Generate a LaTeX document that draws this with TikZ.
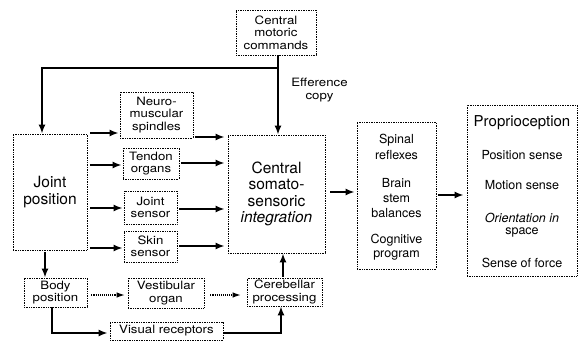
\documentclass[tikz,border=0pt]{standalone}
\usepackage{fontspec}
\setmainfont{TeX Gyre Heros}
\newfontfamily\boxfont[FakeStretch=1.15]{TeX Gyre Heros}
\usetikzlibrary{arrows.meta}
\begin{document}
\begin{tikzpicture}[x=1pt,y=-1pt,
  box/.style={draw, densely dotted, line width=0.7pt, inner sep=0pt, align=center,
    font=\boxfont\fontsize{11.5}{12.5}\selectfont},
  bigbox/.style={box, font=\rmfamily\fontsize{15.5}{16.5}\selectfont},
  tarrow/.style={line width=1.8pt, -{Latex[length=9pt,width=7pt]}},
  tline/.style={line width=1.8pt},
  farrow/.style={line width=1.1pt, densely dotted, -{Latex[length=8pt,width=5.5pt]}},
  stxt/.style={inner sep=0pt, font=\fontsize{12.5}{14}\selectfont},
  ltxt/.style={inner sep=0pt, font=\fontsize{15}{16}\selectfont}
]
\useasboundingbox (0,0) rectangle (579,345);

% boxes
\node[box, minimum width=80pt, minimum height=45pt] (cmc) at (276,32.5) {Central\\motoric\\commands};
\node[bigbox, minimum width=74pt, minimum height=116pt] (joint) at (50,192) {Joint\\position};
\node[box, minimum width=73pt, minimum height=46pt] (neuro) at (156.5,115) {Neuro-\\muscular\\spindles};
\node[box, minimum width=56pt, minimum height=31pt] (tendon) at (151,163.5) {Tendon\\organs};
\node[box, minimum width=53pt, minimum height=33pt] (jsens) at (150.5,207.5) {Joint\\sensor};
\node[box, minimum width=53pt, minimum height=31pt] (skin) at (150.5,246.5) {Skin\\sensor};
\node[bigbox, minimum width=97pt, minimum height=118pt] (central) at (276.5,194)
  {Central\\somato-\\sensoric\\\textit{integration}};
\node[box, minimum width=63pt, minimum height=29pt] (body) at (55.5,292.5) {Body\\position};
\node[box, minimum width=76pt, minimum height=30pt] (vest) at (166,293) {Vestibular\\organ};
\node[box, minimum width=75pt, minimum height=28pt] (cereb) at (284.5,292) {Cerebellar\\processing};
\node[box, minimum width=113pt, minimum height=18pt] (visual) at (166.5,331) {Visual receptors};
\node[box, minimum width=79pt, minimum height=147pt] (spinal) at (396.5,195.5) {};
\node[box, minimum width=110pt, minimum height=171pt] (proprio) at (522,190.5) {};

% texts in spinal box
\node[stxt] (s1) at (396.5,140) {Spinal};
\node[stxt] (s2) at (396.5,155) {reflexes};
\node[stxt] (s3) at (396.5,183) {Brain};
\node[stxt] (s4) at (396.5,198) {stem};
\node[stxt] (s5) at (396.5,213) {balances};
\node[stxt] (s6) at (396.5,240) {Cognitive};
\node[stxt] (s7) at (396.5,255) {program};

% texts in proprioception box
\node[ltxt] (p0) at (522,123) {Proprioception};
\node[stxt] (p1) at (522,155) {Position sense};
\node[stxt] (p2) at (522,185) {Motion sense};
\node[stxt] (p3) at (522,218) {\itshape Orientation in};
\node[stxt] (p4) at (522,232) {space};
\node[stxt] (p5) at (522,263) {Sense of force};

% efference copy label
\node[inner sep=0pt, align=center, font=\boxfont\fontsize{11.5}{12.5}\selectfont] (eff) at (319.5,90) {Efference\\copy};

% efference lines
\coordinate (split) at (278,68);
\draw[tline] (cmc.south -| split) -- (split);
\draw[tarrow] (split) -- (split -| 42,0) -- ([xshift=-8pt]joint.north);
\draw[tarrow] (split) -- (central.north -| split);

% joint -> sensors
\draw[tarrow] ([xshift=3pt]joint.east |- 0,133) -- ([xshift=-1pt]neuro.west |- 0,133);
\draw[tarrow] ([xshift=3pt]joint.east |- 0,165) -- ([xshift=-1pt]tendon.west |- 0,165);
\draw[tarrow] ([xshift=3pt]joint.east |- 0,208) -- ([xshift=-1pt]jsens.west |- 0,208);
\draw[tarrow] ([xshift=3pt]joint.east |- 0,248) -- ([xshift=-1pt]skin.west |- 0,248);

% sensors -> central
\draw[tarrow] ([xshift=2pt]neuro.east |- 0,137) -- ([xshift=-3pt]central.west |- 0,137);
\draw[tarrow] ([xshift=2pt]tendon.east |- 0,163) -- ([xshift=-3pt]central.west |- 0,163);
\draw[tarrow] ([xshift=2pt]jsens.east |- 0,209) -- ([xshift=-3pt]central.west |- 0,209);
\draw[tarrow] ([xshift=2pt]skin.east |- 0,246) -- ([xshift=-3pt]central.west |- 0,246);

% central -> spinal -> proprio
\draw[tarrow] ([xshift=5pt]central.east |- 0,192) -- ([xshift=-2pt]spinal.west |- 0,192);
\draw[tarrow] ([xshift=2pt]spinal.east |- 0,195) -- ([xshift=-3pt]proprio.west |- 0,195);

% lower part
\draw[tarrow, shorten <=2pt] ([xshift=-5pt]joint.south) -- ([xshift=-10.5pt]body.north);
\draw[farrow] ([xshift=4pt]body.east |- 0,295) -- ([xshift=-3pt]vest.west |- 0,295);
\draw[farrow] ([xshift=6pt]vest.east |- 0,295) -- ([xshift=-6pt]cereb.west |- 0,295);
\draw[tarrow, shorten <=1pt] ([xshift=-1.5pt]cereb.north) -- ([xshift=6.5pt]central.south);
\coordinate (bcorner) at (52,333);
\draw[tarrow] (body.south -| bcorner) -- (bcorner) -- ([xshift=-2pt]visual.west |- bcorner);
\coordinate (vcorner) at (281,333);
\draw[tarrow] ([xshift=1pt]visual.east |- vcorner) -- (vcorner) -- (cereb.south -| vcorner);
\end{tikzpicture}
\end{document}
